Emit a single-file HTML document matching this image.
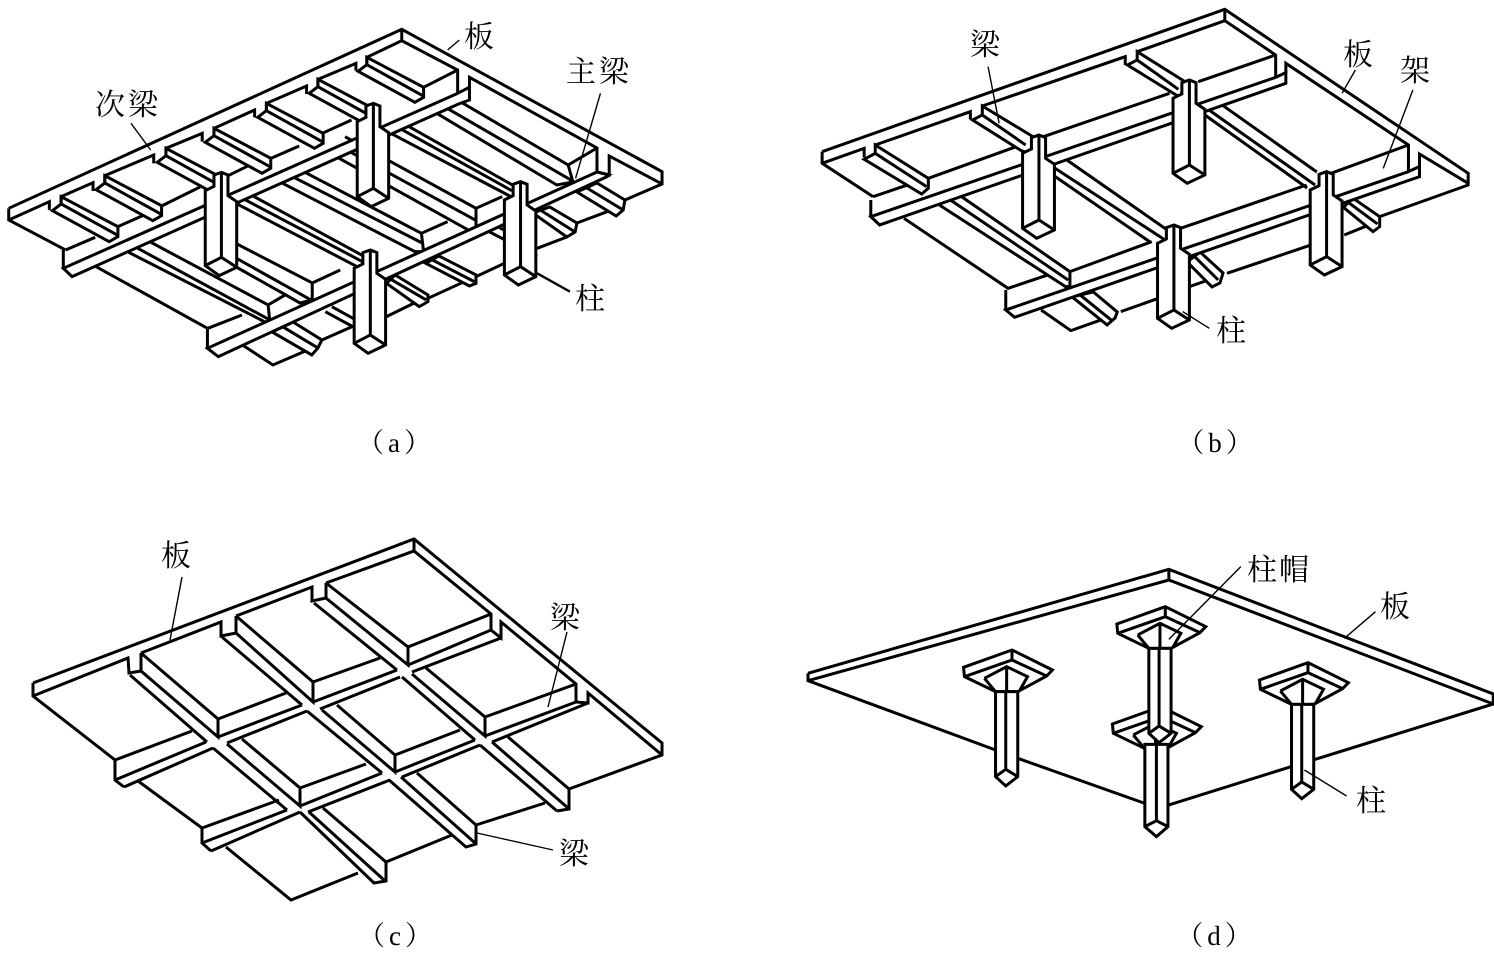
<!DOCTYPE html>
<html><head><meta charset="utf-8">
<style>
html,body{margin:0;padding:0;background:#fff;width:1494px;height:953px;overflow:hidden}
svg{display:block}
path,polygon{fill:none;stroke:#000;stroke-width:3;stroke-linejoin:miter;vector-effect:non-scaling-stroke}
.w{fill:#fff}
.t{stroke-width:1.4}
text{font-family:"Liberation Serif","Noto Serif CJK SC",serif;font-size:30px;fill:#000;text-anchor:middle}
.c{font-size:27px;letter-spacing:4px}
</style></head><body>
<svg width="1494" height="953" viewBox="0 0 1494 953" xmlns="http://www.w3.org/2000/svg">
<defs>
<g id="col"><polygon class="w" points="838,318 855,310 870,318 870,380 890,398 890,595 850,620 818,590 818,365 838,352"/><path d="M855,312V565M818,590L855,565L890,595"/></g>
<g id="bm"><polygon class="w" points="0,0 130,90 130,120 110,135 -20,42 0,22"/><path d="M0,22L128,115M0,0V22"/></g>
<g id="cap"><polygon class="w" points="477,300 368,352 370,380 440,425 490,425 555,378 568,360"/><path d="M477,300V330M370,380L477,330L555,378M415,385L465,350L512,380L495,420M415,385L440,425M465,350V422"/></g>
<g id="dcol"><polygon class="w" points="440,425 490,425 490,680 463,708 440,680"/><path d="M463,425V658M440,680L463,658L490,680"/></g>
</defs>

<!-- (a) -->
<g transform="scale(.4367,.3333)">
<path d="M20,625L920,88L1516,515V552L1431,600M20,625V660L150,750M220,800L475,985M555,1035L625,1095L714,1045M737,1020L815,975M885,950L955,905M980,895L1075,838M1090,830L1155,790M1230,745L1298,711M1321,669L1411,625"/>
<path d="M20,660L113,605V630M140,590L213,548V573M240,527L352,465V490M380,445L463,400V425M490,385L583,330V352M610,310L702,258V282M728,238L815,190V212M840,172L920,122L1048,210V280L1075,262V232L1367,444V516L1395,525V468L1516,552M920,88V122"/>
<path d="M150,750L218,712M270,680L335,642M370,618L458,561M510,535L580,490M615,478L685,438M738,400L805,360M970,262L1048,210M1367,444L1301,495"/>
<use href="#bm" x="140" y="590"/><use href="#bm" x="240" y="527"/><use href="#bm" x="380" y="445"/><use href="#bm" x="490" y="385"/><use href="#bm" x="610" y="310"/><use href="#bm" x="728" y="238"/><use href="#bm" x="840" y="172"/>
<!-- bay 2 beams -->
<path d="M1050,302L1301,495L1312,546L1275,555L1000,340M1020,322L1310,542"/>
<path d="M930,375L1180,560M915,385L1172,572M895,400L1170,590"/>
<path d="M790,410L1090,625V690L1075,692L770,470M780,440L1088,660M1090,625L1150,590"/>
<path d="M700,518L965,700L970,755L950,755L640,545M670,530L965,728M965,700L1025,665"/>
<path d="M575,585L835,770M555,595L830,785M540,610L825,805"/>
<path d="M538,729L715,849L715,900L687,909L504,774M540,774L712,900M715,849L779,810"/>
<path d="M344,726L614,915L618,966L607,966L293,756M314,744L618,960M614,915L653,885"/>
<path d="M1030,310L1000,340M476,985L554,945"/>
<!-- bay 3 beams -->
<polygon class="w" points="1367,549 1431,600 1427,630 1411,648 1321,576"/><path d="M1344,564L1427,630"/>
<polygon class="w" points="1259,621 1321,669 1317,696 1298,711 1220,639"/><path d="M1237,630L1317,696"/>
<path d="M1120,695L1230,770M1140,680L1230,745"/>
<polygon class="w" points="1005,768 1090,825 1090,850 1075,858 975,790"/><path d="M990,780L1086,845"/>
<polygon class="w" points="905,825 980,885 980,905 960,920 885,850"/><path d="M895,838L976,900"/>
<path d="M760,920L815,960M745,935L815,985"/>
<polygon class="w" points="671,966 737,1020 728,1044 714,1065 623,996"/><path d="M648,981L728,1044"/>
<!-- main beams -->
<polygon class="w" points="1048,280 145,805 165,830 1050,312 1075,300 1075,262"/>
<path d="M145,750V805"/>
<polygon class="w" points="1367,516 475,1045 500,1070 1390,530 1395,525"/>
<path d="M475,985V1045"/>
<!-- columns -->
<use href="#col"/>
<use href="#col" x="-348" y="207"/>
<use href="#col" x="337" y="235"/>
<use href="#col" x="-7" y="440"/>
<path class="t" d="M1025,150L1052,120M1375,280L1318,535M300,370L345,450"/>
<path style="stroke-width:2.4" d="M1230,820L1305,875"/>
</g>

<!-- (b) -->
<g transform="translate(800,0) scale(.4425,.3333)">
<path d="M50,455L960,28L1510,520V555L1310,650M50,455V490L165,590M235,655L470,865L560,825M960,28V62M545,930L612,992L680,960M725,935L810,895M880,860L945,830M965,820L1155,735M1230,705L1295,670"/>
<path d="M50,490L145,445V472M170,435L385,335V358M412,318L735,170V195M762,155L960,62L1075,165V232L1098,218V190L1375,435V515L1400,500V462L1510,550"/>
<path d="M290,535L545,413M550,410L835,280M900,245L1075,165M165,590L250,552M1200,520L1375,435"/>
<polygon class="w" points="170,435 290,535 290,565 275,582 145,478 170,460"/><path d="M170,460L286,560"/>
<polygon class="w" points="412,318 545,425 520,460 500,452 390,360 412,345"/><path d="M412,345L510,435"/>
<polygon class="w" points="762,155 870,245 860,290 850,285 740,195 762,180"/><path d="M762,180L855,268"/>
<path d="M315,615L600,860H610V815L365,590M340,600L606,840"/>
<path d="M603,480L830,690M565,495L825,720M565,519L791,726"/>
<path d="M955,316L1168,516M920,326L1164,555M917,347L1146,564"/>
<path d="M610,815L795,725M860,685L1145,555"/>
<polygon class="w" points="1250,595 1310,650 1310,680 1295,695 1228,622"/><path d="M1240,608L1305,672"/>
<polygon class="w" points="904,756 956,819 949,849 931,861 875,786"/><path d="M888,765L945,840"/>
<polygon class="w" points="663,876 717,936 712,954 694,975 615,891"/><path d="M633,885L703,960"/>
<polygon class="w" points="1075,232 160,650 180,675 1098,250 1098,218"/><path d="M160,600V650"/>
<polygon class="w" points="1375,515 465,930 485,952 1400,530 1400,500"/><path d="M465,870V930"/>
<use href="#col" x="-315" y="95"/>
<use href="#col" x="25" y="-70"/>
<use href="#col" x="335" y="205"/>
<use href="#col" x="-10" y="365"/>
<path class="t" d="M425,200L450,370M1255,210L1225,280M1385,270L1318,505M865,935L925,985"/>
</g>

<!-- (c) -->
<g>
<path d="M33,683L414,539L662,743V755L569,789V809L557,811M33,683V696L115,760V780L124,787M414,539V551M138,781L202,828V843L211,851M226,847L291,900L358,873M386,862L452,835M476,825L545,803M569,789L662,755"/>
<path d="M33,696L128,658L129,673L141,671M141,653L221,622V636L236,633M236,616L312,587V601L326,598M326,583L414,551L491,614V630L501,638V622L576,684V702L588,703V693L662,755"/>
<!-- N beams bay 1 -->
<path d="M141,653V671L218,737V719L141,653M130,675L207,742"/>
<path d="M236,616V633L313,702V682L236,616M222,637L302,705"/>
<path d="M326,583V598L408,665V647L326,583M314,603L397,670"/>
<!-- panel edges -->
<path d="M115,760L192,731M218,719L286,693M313,682L380,658M408,647L491,614M202,828L279,800M300,788L366,764M395,755L460,730M485,717L576,684"/>
<!-- M1 -->
<path d="M115,780L206,742M124,787L213,748M218,737L302,705M227,743L307,711M313,702L397,670M320,709L400,677M408,665L491,630M412,672L501,638"/>
<!-- M2 -->
<path d="M202,843L287,810M211,851L300,812M300,806L382,773M308,812L390,780M395,772L475,740M402,777L480,745M485,736L576,702M492,742L588,703"/>
<!-- N beams bay 2 -->
<path d="M213,748L287,810M227,744L300,806V788L242,739"/>
<path d="M307,711L382,773M322,710L395,772V755L337,705"/>
<path d="M402,677L475,740M412,674L485,736V717L426,668"/>
<!-- N beams bay 3 -->
<path d="M300,812L374,883L386,881V862L323,808M309,812L384,880"/>
<path d="M389,780L466,847L476,844V825L417,773M401,777L475,843"/>
<path d="M480,745L557,811M492,742L568,808M508,737L569,789"/>
<path class="t" d="M182,577L170,640M567,632L548,707M477,833L553,850"/>
</g>

<!-- (d) -->
<g transform="translate(800,550) scale(.4444,.3333)">
<path d="M18,370L830,58L1560,432V462L1155,630M18,370V392L440,600M490,625L780,762M830,765L1105,650M18,392L830,90L1560,462M830,58V90"/>
<use href="#cap" x="335" y="170"/>
<polygon class="w" points="776,583 828,583 828,830 802,860 776,830"/><path d="M802,583V812M776,830L802,812L828,830"/>
<use href="#cap" x="345" y="-130"/><use href="#dcol" x="345" y="-130"/>
<use href="#cap"/><use href="#dcol"/>
<use href="#cap" x="666" y="38"/><use href="#dcol" x="666" y="38"/>
<path class="t" d="M992,50L830,268M1295,185L1225,265M1230,738L1135,660"/>
</g>

<text x="479" y="47">板</text>
<text x="599" y="82" letter-spacing="3">主梁</text>
<text x="128" y="115" letter-spacing="3">次梁</text>
<text x="590" y="309">柱</text>
<text class="c" x="396" y="452">（a）</text>

<text x="985" y="55">梁</text>
<text x="1358" y="65">板</text>
<text x="1415" y="81">架</text>
<text x="1231" y="341">柱</text>
<text class="c" x="1217" y="452">（b）</text>

<text x="176" y="566">板</text>
<text x="565" y="628">梁</text>
<text x="574" y="864">梁</text>
<text class="c" x="397" y="945">（c）</text>

<text x="1279" y="580" letter-spacing="2">柱帽</text>
<text x="1395" y="617">板</text>
<text x="1371" y="811">柱</text>
<text class="c" x="1216" y="945">（d）</text>
</svg>
</body></html>
